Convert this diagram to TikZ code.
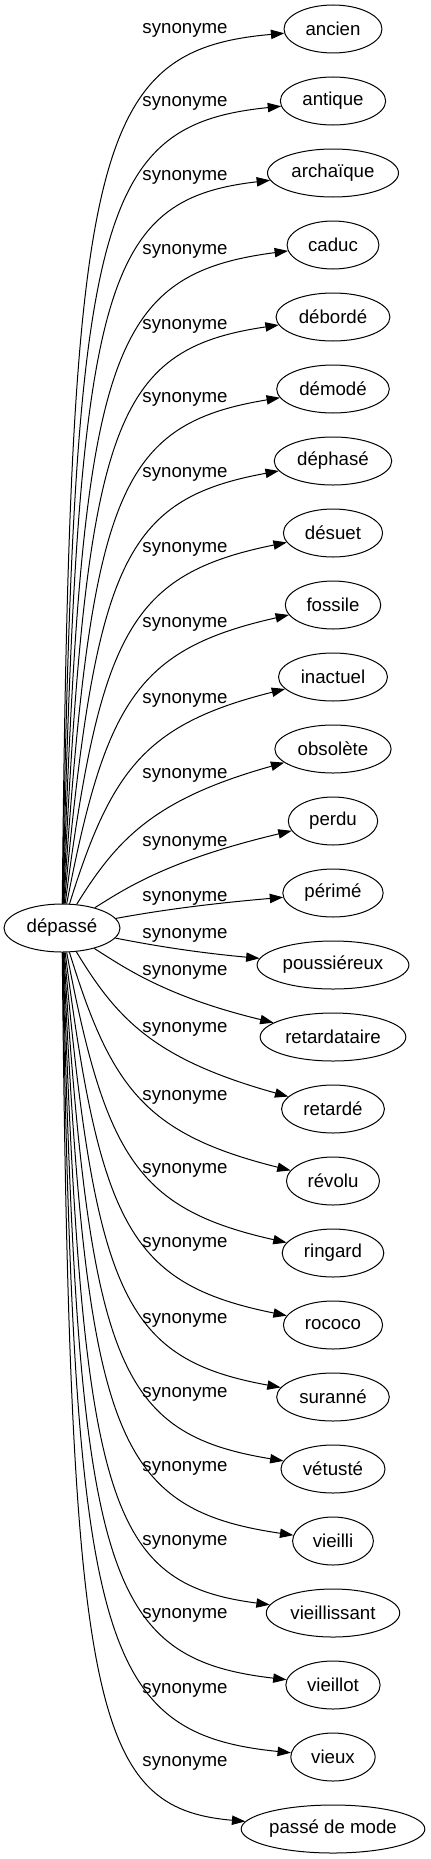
\documentclass[tikz,border=0pt]{standalone}
\usepackage{fontspec}
\setmainfont{Liberation Sans}
\usetikzlibrary{arrows.meta,shapes.geometric}

\begin{document}
\begin{tikzpicture}[x=0.75pt, y=-0.75pt,
            every node/.style={font=\fontsize{14}{17}\selectfont},
            word/.style={draw, ellipse, line width=0.75pt, inner sep=0pt, minimum height=36pt},
            syn/.style={line width=0.75pt, -{Triangle[length=10pt,width=7pt]}}]
        \useasboundingbox (0,0) rectangle (430,1859);
        \node[word, minimum width=87pt] (depasse) at (62,928) {dépassé};
        \foreach \key/\txt/\ly [count=\i from 0] in {
                ancien/ancien/30, antique/antique/103, archaique/archaïque/177,
                caduc/caduc/251, deborde/débordé/326, demode/démodé/399,
                dephase/déphasé/474, desuet/désuet/549, fossile/fossile/624,
                inactuel/inactuel/700, obsolete/obsolète/775, perdu/perdu/843,
                perime/périmé/898, poussiereux/poussiéreux/935,
                retardataire/retardataire/972, retarde/retardé/1029,
                revolu/révolu/1097, ringard/ringard/1170, rococo/rococo/1244,
                suranne/suranné/1320, vetuste/vétusté/1394, vieilli/vieilli/1468,
                vieillissant/vieillissant/1542, vieillot/vieillot/1615,
                vieux/vieux/1690, passe/passé de mode/1763}{
            \pgfmathsetmacro\yt{29+72*\i}
            \pgfmathsetmacro\nodew{1.18*(1.4*width("\txt")+21)}
            \node[word, minimum width=\nodew pt] (\key) at (333,\yt) {\txt};
            \node (lab-\key) at (185,\ly) {synonyme};
            % bend of the edge
            \pgfmathsetmacro\dy{928-\yt}
            \pgfmathsetmacro\ady{abs(\dy)}
            \pgfmathsetmacro\sg{\dy/\ady}
            \pgfmathsetmacro\uu{\ady/899}
            \pgfmathsetmacro\xa{140-70*\uu^0.7}
            \pgfmathsetmacro\ya{\yt+\sg*min(0.64*\ady,82+0.043*\ady)}
            \pgfmathsetmacro\xb{205-113*sqrt(\uu)}
            \pgfmathsetmacro\yb{\yt+\sg*min(0.37*\ady,57-0.04*\ady)}
            \draw[syn] (depasse) .. controls (\xa,\ya) and (\xb,\yb) .. (\key);
        }
\end{tikzpicture}
\end{document}
